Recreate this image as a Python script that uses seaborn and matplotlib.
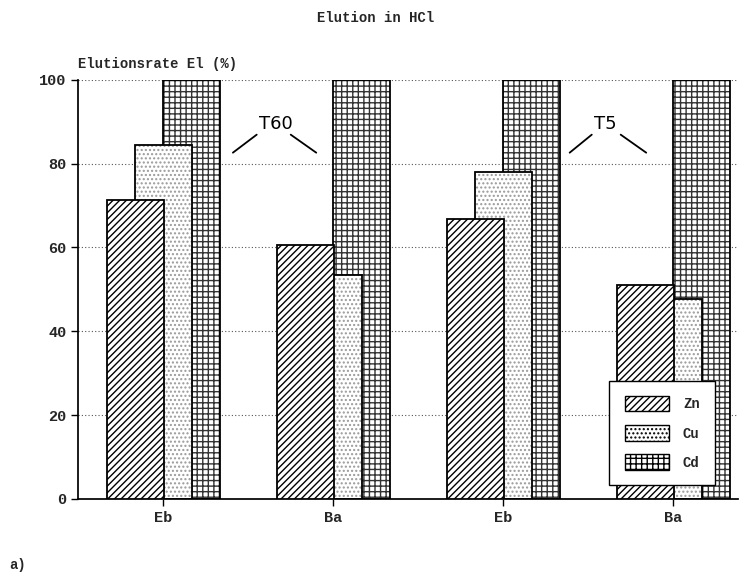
import numpy as np
import pandas as pd
import matplotlib
matplotlib.use("Agg")
import matplotlib.pyplot as plt
import seaborn as sns
from matplotlib.patches import Patch

groups = ["Eb", "Ba", "Eb", "Ba"]
zn = [71.4, 60.6, 66.8, 51.0]
cu = [84.4, 53.5, 78.0, 47.6]
cd = [100, 100, 100, 100]
series = ["Zn", "Cu", "Cd"]

sns.set_theme(style="white")
plt.rcParams["font.family"] = ["Liberation Mono", "DejaVu Sans Mono"]
plt.rcParams["hatch.linewidth"] = 1.0

fig = plt.figure(figsize=(7.44, 5.78), dpi=100)
ax = fig.add_axes([0.105, 0.137, 0.887, 0.725])

pos = np.arange(len(groups))
offsets = {"Zn": -0.165, "Cu": 0.0, "Cd": 0.165}
vals = {"Zn": zn, "Cu": cu, "Cd": cd}
hatches = {"Zn": "/////", "Cu": "....", "Cd": "+++"}
hcolors = {"Zn": "black", "Cu": "#9a9a9a", "Cd": "#333333"}

for s, z in zip(["Cd", "Cu", "Zn"], [1, 2, 3]):
    df = pd.DataFrame({"x": pos + offsets[s], "y": vals[s]})
    n0 = len(ax.patches)
    sns.barplot(data=df, x="x", y="y", native_scale=True, width=0.335,
                color="white", edgecolor="black", linewidth=1.3, ax=ax,
                errorbar=None, zorder=z)
    for p in ax.patches[n0:]:
        p.set_hatch(hatches[s])
        p.set_zorder(z)
        p._hatch_color = matplotlib.colors.to_rgba(hcolors[s])

ax.set_xlim(-0.5, 3.38)
ax.set_ylim(0, 100)
ax.set_xticks(pos)
ax.set_xticklabels(groups, fontsize=11, fontweight="bold")
ax.set_yticks([0, 20, 40, 60, 80, 100])
ax.set_yticklabels(["0", "20", "40", "60", "80", "100"], fontsize=11, fontweight="bold")
ax.set_xlabel("")
ax.set_ylabel("")
ax.yaxis.grid(True, linestyle=(0, (1, 2)), color="#555555", linewidth=0.8)
ax.set_axisbelow(True)
for sp in ["top", "right"]:
    ax.spines[sp].set_visible(False)
ax.spines["left"].set_color("black")
ax.spines["bottom"].set_color("black")
ax.tick_params(axis="both", which="both", direction="out", length=5, width=1, color="black",
               left=True, bottom=True)

ax.text(0.0, 1.02, "Elutionsrate El (%)", transform=ax.transAxes, fontsize=10,
        fontweight="bold", ha="left", va="bottom")
fig.text(0.505, 0.968, "Elution in HCl", fontsize=10, fontweight="bold", ha="center", va="center")
fig.text(0.012, 0.022, "a)", fontsize=10, fontweight="bold", ha="left", va="center")

for label, tx, lines in [("T60", 0.66, [(0.41, 82.6, 0.55, 86.9), (0.75, 86.9, 0.90, 82.6)]),
                         ("T5", 2.60, [(2.39, 82.6, 2.52, 86.9), (2.69, 86.9, 2.84, 82.6)])]:
    ax.text(tx, 89.5, label, fontsize=13, ha="center", va="center", color="black",
            family=["DejaVu Sans"], zorder=6)
    for x0, y0, x1, y1 in lines:
        ax.plot([x0, x1], [y0, y1], color="black", linewidth=1.3, zorder=6)

handles = [Patch(facecolor="white", edgecolor="black", hatch=hatches[s], label=s) for s in series]
leg = ax.legend(handles=handles, loc="lower right", bbox_to_anchor=(0.965, 0.033),
                frameon=True, fancybox=False, edgecolor="black",
                prop={"weight": "bold", "size": 10}, handlelength=3.2, handleheight=1.3,
                labelspacing=1.0, borderpad=1.1, handletextpad=1.0, borderaxespad=0)
leg.get_frame().set_linewidth(1.0)
leg.get_frame().set_alpha(1.0)
leg.set_zorder(10)

fig.savefig("out.png", dpi=100)
